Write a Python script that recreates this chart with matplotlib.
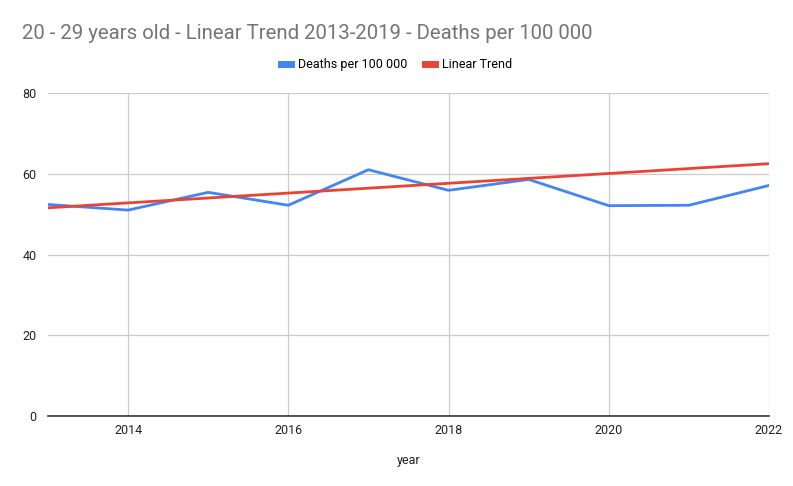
import numpy as np
from matplotlib import pyplot as plt

plt.rcParams['font.family'] = ['Roboto', 'DejaVu Sans']

years = [2013, 2014, 2015, 2016, 2017, 2018, 2019, 2020, 2021, 2022]
deaths = [52.4, 51.0, 55.4, 52.2, 61.0, 55.9, 58.6, 52.1, 52.2, 57.1]

# linear trend fitted on 2013-2019
fit_years = years[:7]
fit_vals = deaths[:7]
slope, icpt = np.polyfit(fit_years, fit_vals, 1)
trend = [slope * y + icpt for y in years]

fig = plt.figure(figsize=(7.93, 4.86), dpi=100)
ax = fig.add_axes([0.0605, 0.144, 0.9092, 0.6646])

ax.plot(years, deaths, color='#4285f4', lw=2, label='Deaths per 100 000')
ax.plot(years, trend, color='#ea4335', lw=2, label='Linear Trend')

ax.set_xlim(2013, 2022)
ax.set_ylim(0, 80)
ax.set_xticks([2014, 2016, 2018, 2020, 2022])
ax.set_yticks([0, 20, 40, 60, 80])
ax.grid(True, color='#cccccc', lw=0.9)
ax.set_axisbelow(True)
for s in ['top', 'right', 'left']:
    ax.spines[s].set_visible(False)
ax.spines['bottom'].set_color('#333333')
ax.spines['bottom'].set_linewidth(1.2)
ax.tick_params(length=0, labelsize=9, colors='#222222', pad=6)
ax.tick_params(axis='y', pad=8)
ax.set_xlabel('year', fontsize=9, color='#222222', labelpad=12)

fig.text(0.028, 0.932, '20 - 29 years old - Linear Trend 2013-2019 - Deaths per 100 000',
         fontsize=14.7, color='#757575', va='center')
fig.legend(loc='center', bbox_to_anchor=(0.5, 0.868), ncol=2, frameon=False,
           fontsize=9, handlelength=0.8, handleheight=0.5, columnspacing=1.4,
           handletextpad=0.6)
leg = fig.legends[0]
for h in leg.legend_handles:
    h.set_linewidth(5)

fig.savefig('out.png', dpi=100)
